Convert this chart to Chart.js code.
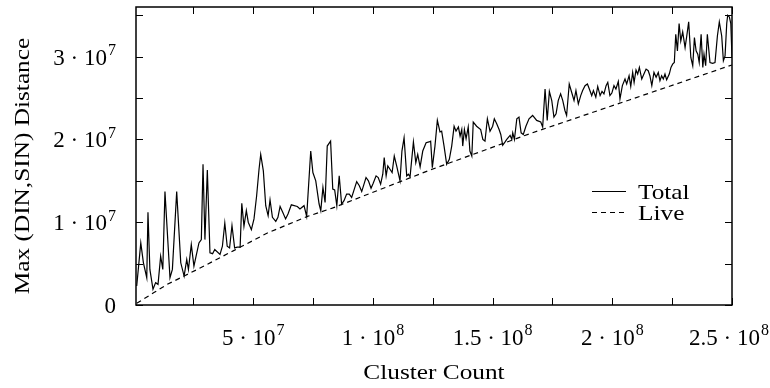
<!DOCTYPE html>
<html>
<head>
<meta charset="utf-8">
<script src="https://cdn.jsdelivr.net/npm/chart.js@4"></script>
<style>
  body { margin: 0; background: #fff; }
  #wrap { width: 770px; height: 388px; }
</style>
</head>
<body>
<div id="wrap"><canvas id="chart" width="770" height="388"></canvas></div>
<script>
/////////////////////////////////////////////////////////////
// DATA (cluster counts and distances in millions)

const totalX = [
  1.3, 3.0, 4.1, 5.5, 6.0, 6.8, 8.1, 9.2, 10.2, 11.3, 12.2, 13.1, 15.2, 16.2, 18.0, 19.7,
  21.1, 22.2, 22.9, 24.1, 25.2, 26.1, 27.3, 28.3, 29.0, 29.8, 30.8, 31.9, 33.0, 33.9, 36.1,
  37.1, 38.1, 39.1, 40.1, 41.1, 42.2, 43.3, 44.5, 45.2, 46.1, 47.1, 47.9, 49.2, 50.3, 51.4,
  52.4, 53.1, 54.2, 55.2, 56.2, 57.0, 58.0, 59.4, 60.3, 61.2, 62.3, 63.5, 64.5, 65.9, 68.4,
  69.5, 71.2, 72.3, 74.0, 74.9, 76.1, 77.5, 78.2, 79.1, 80.0, 80.9, 82.3, 83.2, 84.0, 84.9,
  85.9, 86.9, 87.9, 89.0, 90.1, 91.1, 93.2, 94.3, 95.3, 97.1, 98.1, 99.2, 100.1, 101.3,
  102.2, 103.2, 104.1, 104.7, 105.5, 106.2, 107.1, 108.0, 108.9, 109.9, 111.3, 112.1, 113.0,
  114.1, 114.8, 115.5, 116.9, 117.9, 118.7, 119.7, 120.8, 122.2, 123.4, 124.1, 124.8, 125.9,
  126.9, 128.0, 128.7, 129.7, 130.8, 131.9, 132.9, 133.9, 134.7, 135.7, 136.4, 137.1, 137.5,
  138.2, 138.9, 139.8, 140.5, 141.3, 141.9, 143.3, 145.0, 145.9, 146.8, 147.8, 148.9, 150.0,
  150.7, 151.7, 152.7, 153.4, 154.2, 155.2, 155.9, 157.3, 158.0, 158.4, 159.1, 160.1, 161.0,
  161.9, 162.8, 163.9, 165.2, 166.7, 168.4, 170.1, 170.9, 171.9, 172.8, 173.7, 174.7, 175.6,
  176.5, 177.4, 178.4, 179.3, 180.2, 180.9, 182.0, 183.0, 184.0, 184.8, 185.8, 186.8, 187.6,
  188.6, 189.6, 190.4, 191.4, 192.1, 193.1, 193.9, 194.9, 195.7, 196.5, 197.4, 198.1, 199.0,
  199.8, 200.7, 201.5, 202.5, 203.2, 204.2, 205.3, 206.0, 207.0, 207.7, 208.5, 209.1, 209.9,
  210.6, 211.3, 212.3, 213.2, 214.1, 215.0, 215.7, 216.5, 217.4, 218.3, 219.2, 219.9, 220.6,
  221.3, 222.0, 222.7, 223.8, 224.5, 225.2, 225.9, 226.5, 227.2, 227.9, 228.6, 229.4, 230.4,
  231.1, 231.9, 232.8, 233.6, 234.3, 235.0, 235.7, 236.3, 237.1, 237.8, 238.3, 239.0, 239.7,
  240.8, 241.9, 242.9, 243.9, 244.7, 245.7, 246.4, 247.1, 247.8, 248.2, 248.9, 249.5, 250.0
];
const totalY = [
  2.3, 7.5, 5.1, 3.3, 11.2, 4.3, 1.9, 2.7, 2.5, 5.9, 4.3, 13.7, 3.3, 4.3, 13.7, 5.1,
  3.5, 5.5, 4.3, 7.3, 4.7, 5.9, 7.5, 7.9, 17.0, 7.9, 16.3, 6.3, 6.2, 6.7, 6.1,
  7.1, 9.9, 7.1, 6.9, 9.6, 6.9, 7.0, 7.0, 12.3, 9.5, 11.4, 10.0, 9.1, 10.4, 13.2,
  16.4, 18.2, 16.2, 12.0, 10.8, 12.7, 10.6, 10.1, 10.6, 11.9, 11.2, 10.4, 11.0, 12.1, 11.9,
  11.6, 12.0, 10.7, 18.6, 16.0, 15.0, 12.2, 11.4, 14.2, 12.4, 19.2, 19.8, 14.0, 13.9, 12.0,
  15.6, 12.2, 12.6, 13.4, 13.4, 13.0, 14.9, 14.4, 13.7, 15.4, 15.0, 14.1, 14.7, 15.6,
  15.4, 14.6, 15.8, 17.8, 15.6, 16.8, 16.4, 16.0, 18.0, 16.8, 15.0, 18.6, 20.2,
  15.6, 15.8, 15.5, 19.7, 17.2, 18.2, 16.7, 18.6, 19.6, 19.7, 19.8, 16.6, 19.2,
  22.3, 20.9, 21.0, 19.2, 17.0, 17.6, 19.2, 21.6, 21.0, 21.5, 20.4, 21.2, 19.2,
  21.2, 20.1, 21.5, 18.6, 18.0, 22.1, 21.6, 21.2, 20.0, 19.8, 22.5, 21.0, 21.6,
  22.5, 21.9, 21.2, 20.6, 19.3, 19.7, 20.0, 20.5, 20.0, 20.8, 20.0, 22.5, 22.7,
  20.8, 20.6, 21.6, 22.5, 22.9, 22.3, 22.1, 21.5, 26.1, 22.3, 25.8, 24.7, 22.7,
  23.1, 24.7, 25.5, 24.7, 23.5, 22.9, 26.7, 25.7, 24.7, 25.9, 24.3, 25.3, 25.9,
  26.5, 26.7, 26.1, 25.3, 25.9, 25.1, 26.4, 25.3, 25.8, 25.5, 26.5, 26.9, 25.3,
  25.6, 26.5, 26.1, 27.0, 24.9, 26.5, 27.3, 26.7, 27.7, 26.4, 28.1, 26.9, 28.4,
  27.9, 28.7, 27.3, 27.9, 28.5, 28.3, 27.7, 26.5, 28.1, 27.5, 28.1, 27.1, 27.7,
  27.3, 27.9, 27.2, 27.9, 28.7, 29.1, 29.3, 32.7, 30.7, 34.0, 31.9, 33.0, 31.1,
  32.5, 34.2, 29.9, 28.9, 32.3, 30.7, 30.3, 29.3, 32.7, 28.7, 30.3, 28.9, 32.7,
  29.3, 29.2, 29.3, 32.5, 34.2, 32.5, 29.5, 30.1, 34.0, 35.0, 34.8, 34.0, 29.9
];
const liveX = [1.3, 8.5, 14.1, 21.1, 28.0, 42.0, 55.9, 72.6, 83.0, 123.8, 165.6, 207.4, 250.0];
const liveY = [0.2, 1.5, 2.5, 3.5, 4.5, 6.6, 8.7, 10.7, 11.7, 16.3, 20.7, 24.8, 29.0];

const xTickMarks = [2.5e7, 5e7, 7.5e7, 1e8, 1.25e8, 1.5e8, 1.75e8, 2e8, 2.25e8, 2.5e8];
const yTickMarks = [0, 5e6, 1e7, 1.5e7, 2e7, 2.5e7, 3e7, 3.5e7];
const xTickVals = [5e7, 1e8, 1.5e8, 2e8, 2.5e8];
const xTickMant = ["5", "1", "1.5", "2", "2.5"];
const xTickExp = ["7", "8", "8", "8", "8"];
const yTickVals = [0, 1e7, 2e7, 3e7];
const yTickMant = ["0", "1", "2", "3"];
const yTickExp = ["", "7", "7", "7"];

const seriesNames = ["Total", "Live"];

/////////////////////////////////////////////////////////////
// SET UP CHART

const FONT = "'Liberation Serif', 'Times New Roman', serif";
const FS = 23;
const WIDE = 1.15; // Times is narrower than the TeX font of the original

const toPoints = (xs, ys) => xs.map((v, i) => ({ x: v * 1e6, y: ys[i] * 1e6 }));

// word text, a bit widened
const wideText = function (ctx, str, x, y, align, size) {
  ctx.font = `${size}px ${FONT}`;
  const w = ctx.measureText(str).width * WIDE;
  const x0 = align === "center" ? x - w / 2 : x;
  ctx.save();
  ctx.translate(x0, y);
  ctx.scale(WIDE, 1);
  ctx.textAlign = "left";
  ctx.textBaseline = "alphabetic";
  ctx.fillText(str, 0, 0);
  ctx.restore();
};

// draw "m · 10^e" with a raised exponent
const powText = function (ctx, mant, exp, x, y, align, maxRight) {
  const base = exp ? `${mant} · 10` : mant;
  ctx.font = `${FS}px ${FONT}`;
  const wb = ctx.measureText(base).width;
  ctx.font = `${Math.round(FS * 0.7)}px ${FONT}`;
  const we = exp ? ctx.measureText(exp).width + 1 : 0;
  const w = wb + we;
  let x0 = align === "right" ? x - w : x - w / 2;
  if (maxRight && x0 + w > maxRight) x0 = maxRight - w;
  ctx.textAlign = "left";
  ctx.textBaseline = "alphabetic";
  ctx.font = `${FS}px ${FONT}`;
  ctx.fillText(base, x0, y);
  if (exp) {
    ctx.font = `${Math.round(FS * 0.7)}px ${FONT}`;
    ctx.fillText(exp, x0 + wb + 1, y - FS * 0.42);
  }
};

const frameAndLabels = {
  id: "frameAndLabels",
  afterDraw(chart) {
    const {
      ctx,
      chartArea: { left, right, top, bottom },
      scales: { x, y },
    } = chart;
    const tick = 7;
    ctx.save();
    ctx.strokeStyle = "#000";
    ctx.fillStyle = "#000";
    ctx.lineWidth = 1;
    ctx.setLineDash([]);

    // tick marks (inward, mirrored)
    ctx.beginPath();
    xTickMarks.forEach((v) => {
      const px = Math.round(x.getPixelForValue(v)) + 0.5;
      ctx.moveTo(px, bottom);
      ctx.lineTo(px, bottom - tick);
      ctx.moveTo(px, top);
      ctx.lineTo(px, top + tick);
    });
    yTickMarks.forEach((v) => {
      const py = Math.round(y.getPixelForValue(v)) + 0.5;
      ctx.moveTo(left, py);
      ctx.lineTo(left + tick, py);
      ctx.moveTo(right, py);
      ctx.lineTo(right - tick, py);
    });
    ctx.stroke();

    // frame
    ctx.lineWidth = 1.5;
    ctx.strokeRect(left, top, right - left, bottom - top);

    // tick labels
    xTickVals.forEach((v, i) => {
      powText(ctx, xTickMant[i], xTickExp[i], x.getPixelForValue(v), bottom + 40, "center", 769);
    });
    yTickVals.forEach((v, i) => {
      powText(ctx, yTickMant[i], yTickExp[i], left - 20, y.getPixelForValue(v) + 8, "right");
    });

    // axis titles
    wideText(ctx, "Cluster Count", (left + right) / 2, 379, "center", 22);
    ctx.save();
    ctx.translate(29, 166);
    ctx.rotate(-Math.PI / 2);
    wideText(ctx, "Max (DIN,SIN) Distance", 0, 0, "center", 22);
    ctx.restore();

    // legend
    const lx0 = 592, lx1 = 626, ly = [191, 212];
    chart.data.datasets.forEach((ds, i) => {
      ctx.beginPath();
      ctx.lineWidth = 1.2;
      ctx.setLineDash(ds.borderDash || []);
      ctx.moveTo(lx0, ly[i] + 0.5);
      ctx.lineTo(lx1, ly[i] + 0.5);
      ctx.stroke();
      ctx.setLineDash([]);
      wideText(ctx, seriesNames[i], 638, ly[i] + 8, "left", 22);
    });
    ctx.restore();
  },
};

const chart_data = {
  datasets: [
    {
      label: seriesNames[0],
      data: toPoints(totalX, totalY),
      borderColor: "#000",
      borderWidth: 1.2,
      pointRadius: 0,
      tension: 0,
    },
    {
      label: seriesNames[1],
      data: toPoints(liveX, liveY),
      borderColor: "#000",
      borderWidth: 1.2,
      borderDash: [5, 4],
      pointRadius: 0,
      tension: 0,
    },
  ],
};

const chart_config = {
  type: "line",
  data: chart_data,
  options: {
    responsive: false,
    animation: false,
    layout: { padding: { left: 0, right: 38, top: 7, bottom: 0 } },
    scales: {
      x: {
        type: "linear",
        min: 1e6,
        max: 2.5e8,
        grid: { display: false },
        border: { display: false },
        ticks: { display: false },
        afterFit(s) { s.height = 83; s.paddingLeft = 0; s.paddingRight = 0; },
      },
      y: {
        min: 0,
        max: 3.6e7,
        grid: { display: false },
        border: { display: false },
        ticks: { display: false },
        afterFit(s) { s.width = 136; s.paddingTop = 0; s.paddingBottom = 0; },
      },
    },
    plugins: {
      legend: { display: false },
      tooltip: { enabled: false },
    },
  },
  plugins: [frameAndLabels],
};

const chart_ctx = document.getElementById("chart").getContext("2d");
const myChart = new Chart(chart_ctx, chart_config);
</script>
</body>
</html>
